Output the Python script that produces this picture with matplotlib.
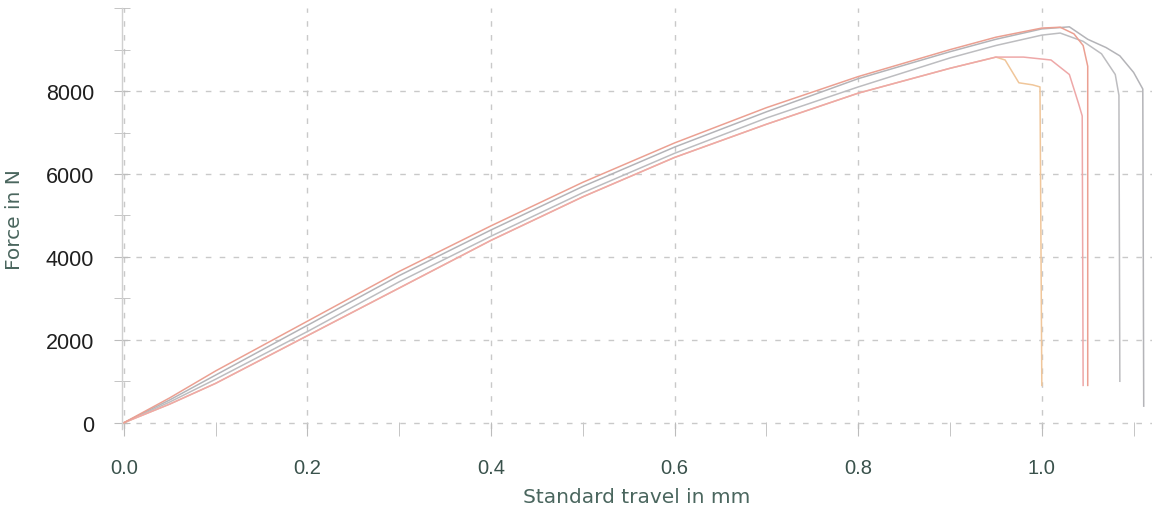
import numpy as np
import matplotlib
matplotlib.use("Agg")
import matplotlib.pyplot as plt
from matplotlib.ticker import MultipleLocator

plt.rcParams['font.family'] = ['Liberation Sans', 'DejaVu Sans']

# ---- data read off the scanned force / travel plot ----
# rising part shared grid (mm)
travel_rise = [0.0, 0.05, 0.1, 0.2, 0.3, 0.4, 0.5, 0.6, 0.7, 0.8, 0.9, 0.95]

# upper red curve
red_top_x = travel_rise + [1.0, 1.02, 1.035, 1.045, 1.05, 1.05]
red_top_y = [0, 600, 1250, 2450, 3650, 4750, 5800, 6750, 7600, 8350, 9000, 9300,
             9520, 9540, 9380, 9100, 8600, 900]

# upper grey curve (longest)
grey_top_x = travel_rise + [1.0, 1.03, 1.05, 1.07, 1.085, 1.1, 1.11, 1.111]
grey_top_y = [0, 550, 1150, 2350, 3550, 4650, 5700, 6650, 7500, 8300, 8950, 9250,
              9500, 9550, 9250, 9050, 8850, 8450, 8050, 400]

# middle grey curve
grey_mid_x = travel_rise + [1.0, 1.02, 1.045, 1.065, 1.08, 1.084, 1.085]
grey_mid_y = [0, 500, 1050, 2200, 3400, 4500, 5550, 6500, 7350, 8100, 8800, 9100,
              9350, 9400, 9200, 8900, 8400, 7900, 1000]

# lower pink curve
pink_low_x = travel_rise + [0.98, 1.01, 1.03, 1.04, 1.044, 1.045]
pink_low_y = [0, 450, 950, 2100, 3250, 4400, 5450, 6400, 7200, 7950, 8550, 8820,
              8820, 8750, 8400, 7700, 7400, 900]

# lower orange curve (early failure)
orange_low_x = travel_rise + [0.96, 0.975, 0.99, 0.998, 1.0]
orange_low_y = [0, 450, 950, 2100, 3250, 4400, 5450, 6400, 7200, 7950, 8550, 8820,
                8750, 8200, 8150, 8100, 900]

x_ticks = [0.0, 0.2, 0.4, 0.6, 0.8, 1.0]
y_ticks = [0, 2000, 4000, 6000, 8000]

curves = [
    (grey_top_x, grey_top_y, "#b4b4b8"),
    (grey_mid_x, grey_mid_y, "#bdbdc0"),
    (orange_low_x, orange_low_y, "#f0c69a"),
    (pink_low_x, pink_low_y, "#eea8a8"),
    (red_top_x, red_top_y, "#eba092"),
]

fig = plt.figure(figsize=(11.58, 5.10), dpi=100)
ax = fig.add_axes([0.1054, 0.157, 0.8894, 0.825])

for xs, ys, col in curves:
    ax.plot(xs, ys, color=col, lw=1.1)

ax.set_xlim(-0.002, 1.12)
ax.set_ylim(-150, 10000)

ax.set_xticks(x_ticks)
ax.set_xticklabels([f"{v:.1f}" for v in x_ticks])
ax.set_yticks(y_ticks)
ax.set_yticklabels([str(v) for v in y_ticks])
ax.xaxis.set_minor_locator(MultipleLocator(0.1))
ax.yaxis.set_minor_locator(MultipleLocator(1000))

ax.grid(True, which="major", color="#c9c9c9", linestyle=(0, (4, 6)), lw=1.0)

for side in ["top", "right", "bottom"]:
    ax.spines[side].set_visible(False)
ax.spines["left"].set_color("#d0d0d0")
ax.spines["left"].set_linewidth(1.0)

ax.tick_params(axis="y", which="both", direction="inout", length=12,
               color="#bcbcbc", labelsize=15.5, labelcolor="#1f1f1f", pad=14)
ax.tick_params(axis="x", which="both", direction="inout", length=10,
               color="#bcbcbc", labelsize=14.5, labelcolor="#3a524c", pad=16)

ax.set_xlabel("Standard travel in mm", fontsize=14.5, color="#4a665e",
              family="DejaVu Sans", labelpad=7)
ax.set_ylabel("Force in N", fontsize=14.5, color="#4a665e",
              family="DejaVu Sans", labelpad=16)

fig.savefig("out.png", dpi=100)
